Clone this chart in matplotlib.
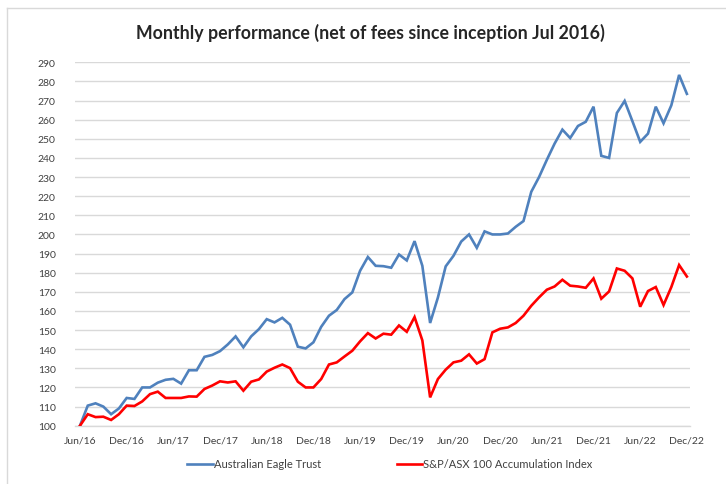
import matplotlib
matplotlib.use("Agg")
import matplotlib.pyplot as plt
from matplotlib.lines import Line2D

# ---- data ----
months = list(range(79))  # Jun/16 .. Dec/22
tick_labels = ["Jun/16", "Dec/16", "Jun/17", "Dec/17", "Jun/18", "Dec/18", "Jun/19",
               "Dec/19", "Jun/20", "Dec/20", "Jun/21", "Dec/21", "Jun/22", "Dec/22"]
aet = [100, 110.5, 111.7, 110, 106, 109, 114.5, 114, 120, 120, 122.5, 124, 124.5, 122, 129,
       129, 136, 137, 139, 142.5, 146.7, 141, 146.7, 150.5, 155.7, 154, 156.4, 152.8, 141.3,
       140.4, 143.6, 151.7, 157.5, 160.5, 166.2, 169.7, 181, 188.2, 183.6, 183.4, 182.6,
       189.5, 186.4, 196.5, 183.6, 153.7, 167, 183.3, 188.8, 196.3, 200, 193, 201.6, 200,
       200, 200.5, 204, 207, 222.3, 230, 239, 247.5, 254.8, 250.4, 256.7, 258.9, 266.8,
       241.1, 240, 263.5, 269.8, 259.2, 248.4, 252.7, 266.8, 258.1, 267.5, 283.4, 273.5]
asx = [100, 106, 104.5, 104.7, 103, 106, 110.5, 110.3, 112.7, 116.5, 117.8, 114.5, 114.5,
       114.5, 115.3, 115.2, 119.2, 121, 123.2, 122.6, 123.2, 118.3, 123, 124.2, 128.3,
       130.3, 132, 130.1, 123, 120, 120, 124.4, 132, 133.1, 136.2, 139.2, 144.1, 148.4,
       145.6, 148.1, 147.6, 152.4, 149.1, 156.8, 144.6, 114.8, 124.4, 129.3, 133.1, 134,
       137.3, 132.5, 134.8, 148.8, 150.7, 151.4, 153.7, 157.5, 162.7, 167.1, 171.1, 172.8,
       176.3, 173.2, 172.8, 172.1, 177, 166.4, 170.2, 182.2, 181, 177, 162.2, 170.4, 172.5,
       163.1, 172.5, 184, 178]
series_names = ["Australian Eagle Trust", "S&P/ASX 100 Accumulation Index"]
yticks = list(range(100, 291, 10))

BLUE = "#4F81BD"
RED = "#FF0000"
TXT = "#404040"
FONT = "Lato"

fig = plt.figure(figsize=(7.26, 4.85), dpi=100)
W, H = 726, 485
ax = fig.add_axes([75 / W, 1 - 426.7 / H, (690 - 75) / W, (426.7 - 63.3) / H])

ax.plot(months, aet, color=BLUE, lw=1.9, solid_joinstyle="miter", zorder=3)
ax.plot(months, asx, color=RED, lw=1.9, solid_joinstyle="miter", zorder=3)

ax.set_xlim(-0.64, 78.4)
ax.set_ylim(100, 290)
ax.set_yticks(yticks)
ax.set_yticklabels([str(v) for v in yticks], fontsize=7.5, color=TXT, family=FONT)
ax.set_xticks(months[::6])
ax.set_xticklabels(tick_labels, fontsize=7.5, color=TXT, family=FONT)
ax.tick_params(axis="both", length=0)
ax.tick_params(axis="y", pad=14)
ax.tick_params(axis="x", pad=7)
ax.grid(axis="y", color="#D9D9D9", lw=1.0)
ax.set_axisbelow(True)
for s in ["top", "right", "left"]:
    ax.spines[s].set_visible(False)
ax.spines["bottom"].set_color("#D9D9D9")
ax.spines["bottom"].set_linewidth(1.0)

fig.text(370 / W, 1 - 33 / H, "Monthly performance (net of fees since inception Jul 2016)",
         ha="center", va="center", fontsize=12.8, fontweight="bold", color="#262626", family=FONT)

handles = [Line2D([], [], color=BLUE, lw=1.9), Line2D([], [], color=RED, lw=1.9)]
leg = fig.legend(handles, series_names, loc="center", bbox_to_anchor=(390 / W, 1 - 465 / H),
                 ncol=2, frameon=False, handlelength=2.3, handletextpad=0.1,
                 columnspacing=6.8, prop={"family": FONT, "size": 8})
for t in leg.get_texts():
    t.set_color(TXT)

# chart frame (top and left edges visible)
fig.add_artist(Line2D([7 / W, 1], [1 - 9 / H, 1 - 9 / H], color="#D9D9D9", lw=1.0, transform=fig.transFigure))
fig.add_artist(Line2D([7 / W, 7 / W], [0, 1 - 9 / H], color="#D9D9D9", lw=1.0, transform=fig.transFigure))

fig.savefig("out.png", dpi=100)
